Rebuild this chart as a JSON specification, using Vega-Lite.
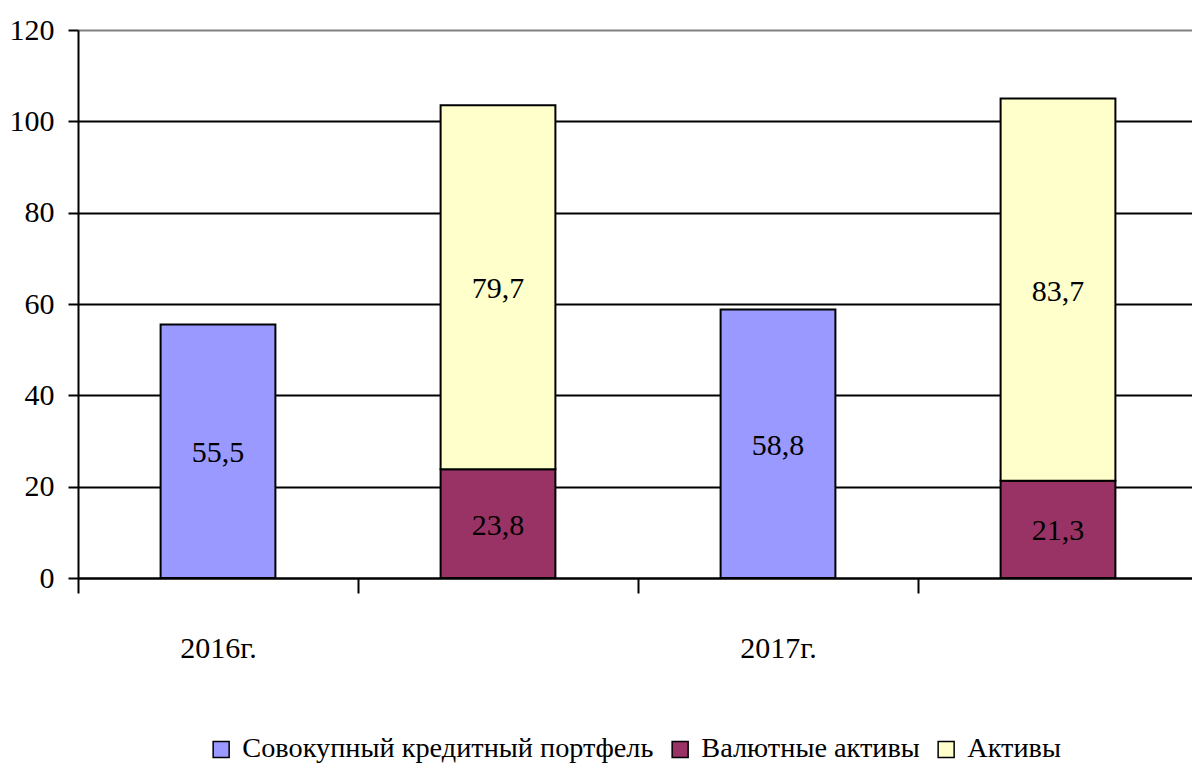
{
  "$schema": "https://vega.github.io/schema/vega-lite/v6.json",
  "autosize": {"type": "none"},
  "width": 1120,
  "height": 548,
  "padding": {"left": 78, "top": 30, "right": 0, "bottom": 194},
  "background": "white",
  "config": {
    "font": "Liberation Serif",
    "view": {"stroke": null},
    "axis": {"labelFont": "Liberation Serif", "labelFontSize": 30, "labelColor": "black"},
    "legend": {"labelFont": "Liberation Serif", "labelFontSize": 28.3, "labelColor": "black"},
    "text": {"font": "Liberation Serif"}
  },
  "data": {
    "values": [
      {"slot": "s1", "series": "Совокупный кредитный портфель", "k": 1, "value": 55.5, "label": "55,5"},
      {"slot": "s2", "series": "Валютные активы", "k": 2, "value": 23.8, "label": "23,8"},
      {"slot": "s2", "series": "Активы", "k": 3, "value": 79.7, "label": "79,7"},
      {"slot": "s3", "series": "Совокупный кредитный портфель", "k": 1, "value": 58.8, "label": "58,8"},
      {"slot": "s4", "series": "Валютные активы", "k": 2, "value": 21.3, "label": "21,3"},
      {"slot": "s4", "series": "Активы", "k": 3, "value": 83.7, "label": "83,7"}
    ]
  },
  "transform": [
    {"stack": "value", "groupby": ["slot"], "sort": [{"field": "k", "order": "ascending"}], "as": ["v0", "v1"]},
    {"calculate": "(datum.v0 + datum.v1) / 2", "as": "mid"}
  ],
  "encoding": {
    "x": {
      "field": "slot",
      "type": "nominal",
      "sort": ["s1", "s2", "s3", "s4"],
      "scale": {"paddingInner": 0, "paddingOuter": 0},
      "axis": {
        "title": null,
        "labelAngle": 0,
        "labelExpr": "datum.value == 's1' ? '2016г.' : datum.value == 's3' ? '2017г.' : ''",
        "tickBand": "extent",
        "tickSize": 15,
        "tickColor": "black",
        "tickWidth": 2,
        "domainColor": "black",
        "domainWidth": 2,
        "labelPadding": 40,
        "grid": false
      }
    }
  },
  "layer": [
    {
      "mark": {"type": "bar", "stroke": "black", "strokeWidth": 2, "width": {"band": 0.41}},
      "encoding": {
        "y": {
          "field": "v0",
          "type": "quantitative",
          "scale": {"domain": [0, 120], "nice": false},
          "axis": {
            "title": null,
            "values": [0, 20, 40, 60, 80, 100, 120],
            "tickSize": 10,
            "tickColor": "black",
            "tickWidth": 2,
            "domainColor": "black",
            "domainWidth": 2,
            "labelPadding": 14,
            "grid": true,
            "gridColor": {"condition": {"test": "datum.value == 120", "value": "#808080"}, "value": "black"},
            "gridWidth": 2,
            "gridOpacity": 1
          }
        },
        "y2": {"field": "v1"},
        "color": {
          "field": "series",
          "type": "nominal",
          "scale": {
            "domain": ["Совокупный кредитный портфель", "Валютные активы", "Активы"],
            "range": ["#9999FF", "#993366", "#FFFFCC"]
          },
          "legend": {
            "title": null,
            "orient": "none",
            "legendX": 129,
            "legendY": 705,
            "direction": "horizontal",
            "symbolType": "square",
            "symbolSize": 256,
            "symbolStrokeColor": "black",
            "symbolStrokeWidth": 1.5,
            "symbolOpacity": 1,
            "labelFont": "Liberation Serif",
            "labelFontSize": 28.3,
            "labelColor": "black",
            "labelLimit": 0,
            "columnPadding": 12,
            "labelOffset": 7
          }
        }
      }
    },
    {
      "mark": {"type": "text", "font": "Liberation Serif", "fontSize": 30, "color": "black", "baseline": "middle", "align": "center", "dy": 2},
      "encoding": {
        "y": {"field": "mid", "type": "quantitative"},
        "text": {"field": "label"}
      }
    }
  ]
}
